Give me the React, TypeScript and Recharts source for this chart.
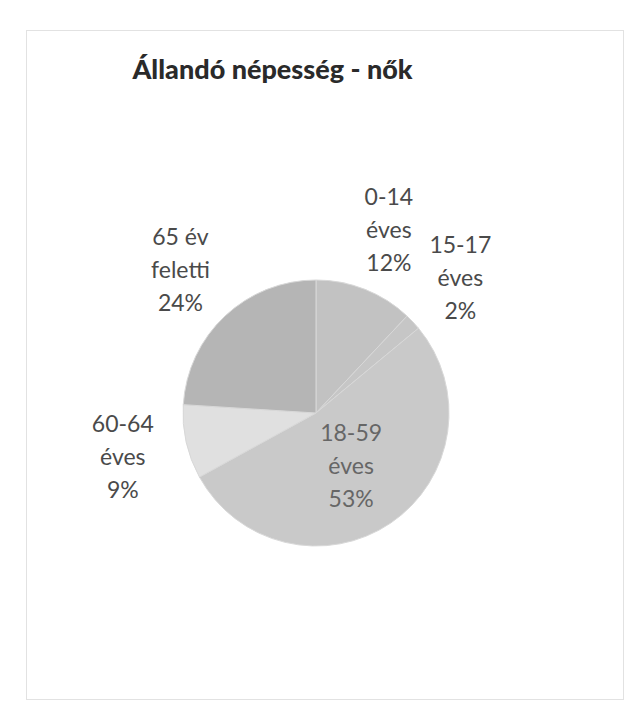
import React from 'react';
import { PieChart, Pie, Cell } from 'recharts';

const categories = ['0-14 éves', '15-17 éves', '18-59 éves', '60-64 éves', '65 év feletti'];
const shares = [12, 2, 53, 9, 24];
const labelLines = [
  ['0-14', 'éves'],
  ['15-17', 'éves'],
  ['18-59', 'éves'],
  ['60-64', 'éves'],
  ['65 év', 'feletti'],
];
const sliceColors = ['#c2c2c2', '#c6c6c6', '#c9c9c9', '#e0e0e0', '#b5b5b5'];

const data = categories.map((name, i) => ({ name, value: shares[i], lines: labelLines[i] }));

const RADIAN = Math.PI / 180;

const renderLabel = (props: any) => {
  const { cx, cy, midAngle, outerRadius, percent, index } = props;
  const inside = percent > 0.3;
  const r = inside ? outerRadius * 0.47 : outerRadius + 65;
  const x = cx + r * Math.cos(-midAngle * RADIAN);
  const y = cy + r * Math.sin(-midAngle * RADIAN);
  const lines = [...data[index].lines, `${Math.round(percent * 100)}%`];
  return (
    <text
      x={x}
      y={y - 33}
      textAnchor="middle"
      dominantBaseline="central"
      fill={inside ? '#666' : '#4a4a4a'}
      fontFamily="Lato, 'Open Sans', sans-serif"
      fontSize={23}
    >
      {lines.map((l, i) => (
        <tspan key={i} x={x} dy={i === 0 ? 0 : 33}>
          {l}
        </tspan>
      ))}
    </text>
  );
};

const App: React.FC = () => {
  return (
    <div style={{ position: 'absolute', left: 0, top: 0, width: 635, height: 711, background: '#fff' }}>
      <div
        style={{
          position: 'absolute',
          left: 26,
          top: 30,
          width: 596,
          height: 668,
          border: '1px solid #e2e2e2',
        }}
      />
      <div
        style={{
          position: 'absolute',
          left: 0,
          top: 52,
          width: 545,
          textAlign: 'center',
          fontFamily: "Lato, 'Open Sans', sans-serif",
          fontWeight: 900,
          fontSize: 27,
          color: '#2a2a2a',
        }}
      >
        Állandó népesség - nők
      </div>
      <PieChart width={635} height={711} style={{ position: 'absolute', left: 0, top: 0 }}>
        <Pie
          data={data}
          dataKey="value"
          nameKey="name"
          cx={311}
          cy={408}
          outerRadius={133}
          startAngle={90}
          endAngle={-270}
          stroke="#d8d8d8"
          strokeWidth={1}
          label={renderLabel}
          labelLine={false}
          isAnimationActive={false}
        >
          {data.map((d, i) => (
            <Cell key={d.name} fill={sliceColors[i]} />
          ))}
        </Pie>
      </PieChart>
    </div>
  );
};

export default App;
